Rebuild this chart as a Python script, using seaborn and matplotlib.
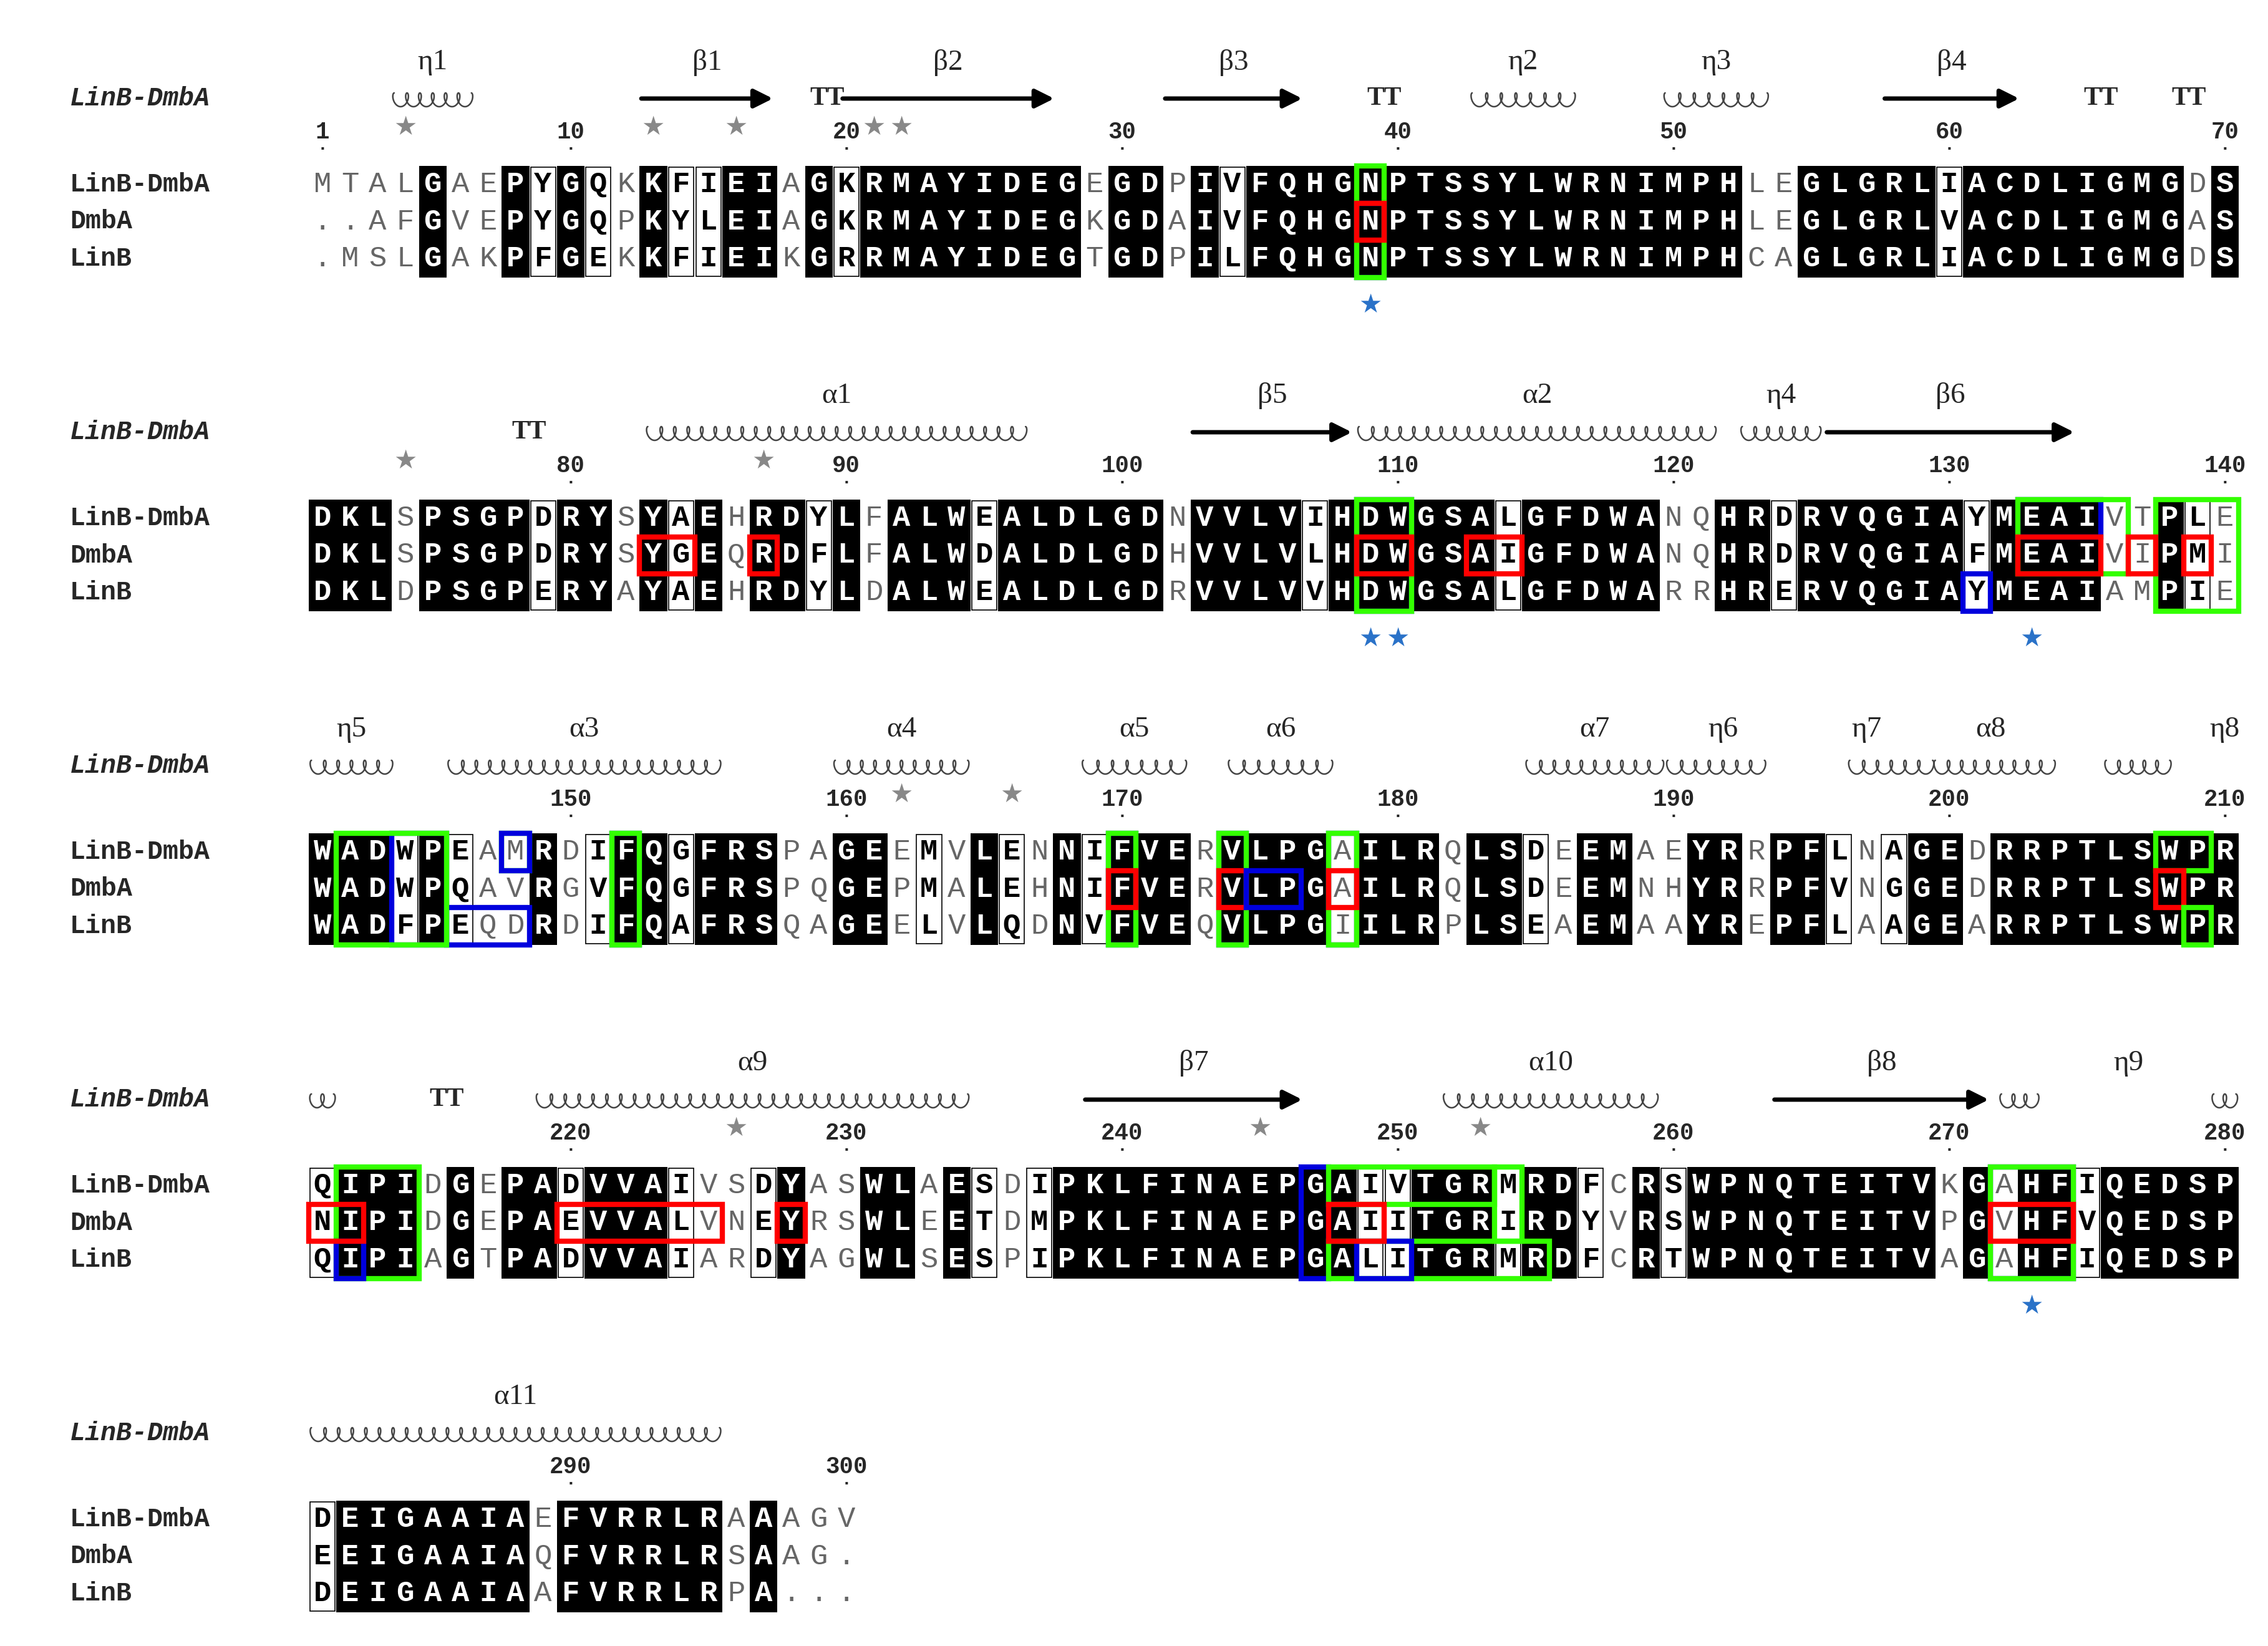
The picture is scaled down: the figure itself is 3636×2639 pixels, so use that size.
import numpy as np
import matplotlib
matplotlib.use("Agg")
import matplotlib.pyplot as plt
import seaborn as sns
from matplotlib.patches import Rectangle

sns.set_style("white")

# ---- data ----
names = ["LinB-DmbA", "DmbA", "LinB"]
linb_dmba = ["MTALGAEPYGQKKFIEIAGKRMAYIDEGEGDPIVFQHGNPTSSYLWRNIMPHLEGLGRLIACDLIGMGDS",
             "DKLSPSGPDRYSYAEHRDYLFALWEALDLGDNVVLVIHDWGSALGFDWANQHRDRVQGIAYMEAIVTPLE",
             "WADWPEAMRDIFQGFRSPAGEEMVLENNIFVERVLPGAILRQLSDEEMAEYRRPFLNAGEDRRPTLSWPR",
             "QIPIDGEPADVVAIVSDYASWLAESDIPKLFINAEPGAIVTGRMRDFCRSWPNQTEITVKGAHFIQEDSP",
             "DEIGAAIAEFVRRLRAAAGV"]
dmba = ["..AFGVEPYGQPKYLEIAGKRMAYIDEGKGDAIVFQHGNPTSSYLWRNIMPHLEGLGRLVACDLIGMGAS",
        "DKLSPSGPDRYSYGEQRDFLFALWDALDLGDHVVLVLHDWGSAIGFDWANQHRDRVQGIAFMEAIVIPMI",
        "WADWPQAVRGVFQGFRSPQGEPMALEHNIFVERVLPGAILRQLSDEEMNHYRRPFVNGGEDRRPTLSWPR",
        "NIPIDGEPAEVVALVNEYRSWLEETDMPKLFINAEPGAIITGRIRDYVRSWPNQTEITVPGVHFVQEDSP",
        "EEIGAAIAQFVRRLRSAAG."]
linb = [".MSLGAKPFGEKKFIEIKGRRMAYIDEGTGDPILFQHGNPTSSYLWRNIMPHCAGLGRLIACDLIGMGDS",
        "DKLDPSGPERYAYAEHRDYLDALWEALDLGDRVVLVVHDWGSALGFDWARRHRERVQGIAYMEAIAMPIE",
        "WADFPEQDRDIFQAFRSQAGEELVLQDNVFVEQVLPGIILRPLSEAEMAAYREPFLAAGEARRPTLSWPR",
        "QIPIAGTPADVVAIARDYAGWLSESPIPKLFINAEPGALITGRMRDFCRTWPNQTEITVAGAHFIQEDSP",
        "DEIGAAIAAFVRRLRPA..."]
block_start = [1, 71, 141, 211, 281]

# secondary structure: (kind, label, first col, last col)
ss = [("coil", "η1", 3.6, 6.4), ("arrow", "β1", 12.5, 17.4), ("tt", "", 18.8, 19.8),
      ("arrow", "β2", 19.8, 27.6), ("arrow", "β3", 31.5, 36.6), ("tt", "", 39, 40),
      ("coil", "η2", 42.7, 46.4), ("coil", "η3", 49.7, 53.4), ("arrow", "β4", 57.6, 62.6),
      ("tt", "", 65, 66), ("tt", "", 68.2, 69.2),
      ("tt", "", 78, 79), ("coil", "α1", 82.8, 96.5), ("arrow", "β5", 102.5, 108.4),
      ("coil", "α2", 108.6, 121.5), ("coil", "η4", 122.5, 125.3), ("arrow", "β6", 125.5, 134.6),
      ("coil", "η5", 140.6, 143.5), ("coil", "α3", 145.6, 155.4), ("coil", "α4", 159.6, 164.4),
      ("coil", "α5", 168.6, 172.3), ("coil", "α6", 173.9, 177.6), ("coil", "α7", 184.7, 189.6),
      ("coil", "η6", 189.8, 193.3), ("coil", "η7", 196.4, 199.4), ("coil", "α8", 199.5, 203.8),
      ("coil", "η8", 205.7, 208.0),
      ("coil", "", 210.6, 211.4), ("tt", "", 215, 216), ("coil", "α9", 218.8, 234.4),
      ("arrow", "β7", 238.6, 246.6), ("coil", "α10", 251.7, 259.4), ("arrow", "β8", 263.6, 271.5),
      ("coil", "η9", 271.9, 273.2), ("coil", "", 279.6, 280.4),
      ("coil", "α11", 280.6, 295.4)]
ss_label_col = {"η6": 191.8, "η7": 197.0, "α8": 201.5, "η8": 210.0, "η9": 276.5}
gray_stars = [4, 13, 16, 21, 22, 74, 87, 162, 166, 226, 245, 253]
blue_stars = [39, 109, 110, 133, 273]

# highlight boxes: (colour, first col, last col, first row, last row)
boxes = [("blue", 39, 39, 1, 2), ("green", 39, 39, 0, 2), ("red", 39, 39, 1, 1),
         ("blue", 109, 110, 0, 2), ("green", 109, 110, 0, 2), ("red", 109, 110, 1, 1),
         ("red", 83, 84, 1, 1), ("red", 87, 87, 1, 1), ("red", 113, 114, 1, 1),
         ("blue", 131, 131, 2, 2), ("blue", 133, 135, 0, 0), ("green", 133, 136, 0, 1),
         ("green", 138, 140, 0, 2), ("red", 133, 135, 1, 1), ("red", 137, 137, 1, 1),
         ("red", 139, 139, 1, 1),
         ("blue", 144, 145, 0, 2), ("blue", 146, 148, 2, 2), ("green", 142, 145, 0, 2),
         ("green", 148, 148, 0, 0), ("blue", 148, 148, 0, 0), ("blue", 152, 152, 0, 2),
         ("green", 152, 152, 0, 2), ("blue", 170, 170, 0, 2), ("green", 170, 170, 0, 2),
         ("red", 170, 170, 1, 1), ("blue", 174, 174, 0, 2), ("green", 174, 174, 0, 2),
         ("red", 174, 174, 1, 1), ("blue", 175, 176, 1, 1), ("blue", 178, 178, 0, 2),
         ("green", 178, 178, 0, 2), ("red", 178, 178, 1, 1), ("green", 208, 209, 0, 0),
         ("red", 208, 208, 1, 1), ("green", 209, 209, 2, 2),
         ("green", 212, 214, 0, 2), ("blue", 212, 212, 2, 2), ("red", 211, 212, 1, 1),
         ("red", 220, 225, 1, 1), ("red", 228, 228, 1, 1), ("blue", 247, 247, 0, 2),
         ("green", 248, 253, 0, 0), ("green", 248, 255, 2, 2), ("green", 254, 254, 0, 1),
         ("blue", 249, 250, 2, 2), ("red", 248, 249, 1, 1),
         ("blue", 272, 274, 0, 2), ("green", 272, 274, 0, 2), ("red", 272, 274, 1, 1)]

# ---- layout (pixels) ----
W, H = 3637, 2639
x0, cw = 517, 44.2
row0, rh, bstep = 296, 59.5, 535
groups = ["FYW", "ILVM", "KR", "DENQ", "ST", "AG"]
colors = {"green": "#33ff00", "red": "#ff0000", "blue": "#0000dd"}
mono = "Liberation Mono"
serif = "Liberation Serif"

fig = plt.figure(figsize=(W / 100, H / 100), dpi=100)
ax = fig.add_axes([0, 0, 1, 1])
ax.set_xlim(0, W)
ax.set_ylim(H, 0)
ax.axis("off")


def locate(col):
    b = max(i for i, s in enumerate(block_start) if col + 0.5 >= s)
    return b, x0 + (col - block_start[b]) * cw


def similar(chars):
    if "." in chars:
        return False
    return any(all(c in g for c in chars) for g in groups)


for b in range(5):
    yb = row0 + b * bstep
    seqs = [linb_dmba[b], dmba[b], linb[b]]
    ax.text(112, yb - 138, "LinB-DmbA", family=mono, style="italic", weight="bold",
            fontsize=30, va="center")
    for r, nm in enumerate(names):
        ax.text(112, yb + r * rh, nm, family=mono, weight="bold", fontsize=30, va="center")
    for i in range(len(seqs[0])):
        col = block_start[b] + i
        cx = x0 + i * cw
        chars = [s[i] for s in seqs]
        top = yb - rh / 2
        if len(set(chars)) == 1 and chars[0] != ".":
            ax.add_patch(Rectangle((cx - cw / 2, top), cw, 3 * rh, color="black", lw=0))
            for r, c in enumerate(chars):
                ax.text(cx, yb + r * rh, c, family=mono, weight="bold", fontsize=34,
                        color="white", ha="center", va="center")
        elif similar(chars):
            ax.add_patch(Rectangle((cx - cw / 2 + 2, top + 2), cw - 4, 3 * rh - 4,
                                   fill=False, ec="black", lw=1.2))
            for r, c in enumerate(chars):
                ax.text(cx, yb + r * rh, c, family=mono, weight="bold", fontsize=34,
                        color="black", ha="center", va="center")
        else:
            for r, c in enumerate(chars):
                ax.text(cx, yb + r * rh, c, family=mono, fontsize=34,
                        color="#666666", ha="center", va="center")
        if col == 1 or col % 10 == 0:
            ax.text(cx, yb - 84, str(col), family=mono, weight="bold", fontsize=27,
                    ha="center", va="center")
            ax.text(cx, yb - 50, ".", family=mono, weight="bold", fontsize=20,
                    ha="center", va="bottom")

# stars
for col in gray_stars:
    b, cx = locate(col)
    ax.text(cx, row0 + b * bstep - 92, "★", fontsize=30, color="#888888",
            ha="center", va="center", family="DejaVu Sans")
for col in blue_stars:
    b, cx = locate(col)
    ax.text(cx, row0 + b * bstep + 193, "★", fontsize=30, color="#2a72c8",
            ha="center", va="center", family="DejaVu Sans")

# highlight boxes
for colr, c1, c2, r1, r2 in boxes:
    b, xa = locate(c1)
    _, xb = locate(c2)
    yb = row0 + b * bstep
    ax.add_patch(Rectangle((xa - cw / 2, yb + r1 * rh - rh / 2), xb - xa + cw,
                           (r2 - r1 + 1) * rh, fill=False, ec=colors[colr], lw=6))

# secondary structure
for kind, lab, c1, c2 in ss:
    b, xa = locate(c1)
    xb = x0 + (c2 - block_start[b]) * cw
    yb = row0 + b * bstep - 138
    if kind == "coil":
        n = max(1, int(round((xb - xa) / 22)))
        t = np.linspace(0, 2 * np.pi * n, 60 * n)
        r = (xb - xa) / (2 * np.pi * n)
        xs = xa + r * t - 6.5 * np.sin(t)
        ys = yb - 11 * np.cos(t) + 2
        ax.plot(xs, ys, color="#444444", lw=1.8)
    elif kind == "arrow":
        ax.annotate("", xy=(xb, yb), xytext=(xa, yb),
                    arrowprops=dict(arrowstyle="-|>", lw=5, color="black",
                                    mutation_scale=45))
    else:
        ax.text((xa + xb) / 2, yb, "TT", family=serif, weight="bold", fontsize=30,
                ha="center", va="center")
    if lab:
        lc = ss_label_col.get(lab)
        lx = locate(lc)[1] if lc else (xa + xb) / 2
        ax.text(lx, yb - 58, lab, family=serif, fontsize=34, ha="center", va="center")

fig.savefig("out.png", dpi=100)
